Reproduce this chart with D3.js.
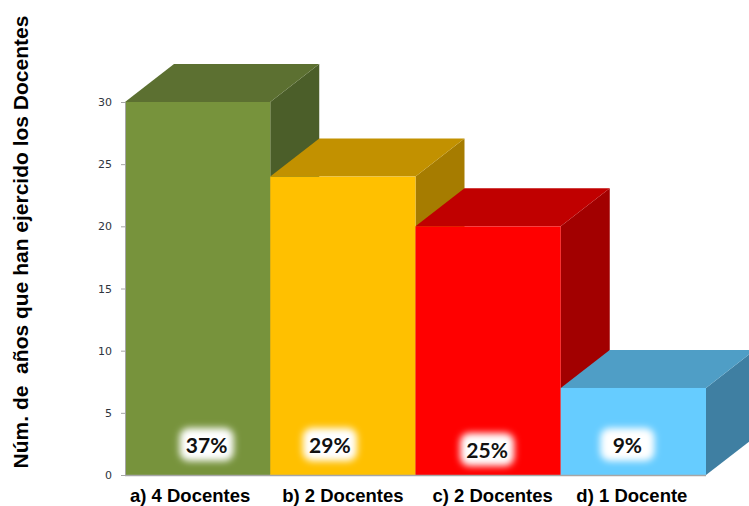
<!DOCTYPE html>
<html><head><meta charset="utf-8">
<script src="https://cdn.jsdelivr.net/npm/d3@7"></script>
<style>body{margin:0;background:#fff}svg{display:block}</style>
</head><body>
<script>
const categories = ["a) 4 Docentes", "b) 2 Docentes", "c) 2 Docentes", "d) 1 Docente"];
const values = [30, 24, 20, 7];
const percentLabels = ["37%", "29%", "25%", "9%"];
const yTicks = [0, 5, 10, 15, 20, 25, 30];
const yTitle = "Núm. de  años que han ejercido los Docentes";

const frontColors = ["#77933C", "#FFC000", "#FF0000", "#66CCFF"];
const topColors = ["#5C7031", "#C29100", "#C00000", "#4F9EC6"];
const sideColors = ["#4B5E29", "#A67C00", "#A20000", "#3F7FA2"];
const labelDx = [9, -13, -1, -6];
const labelBase = [453, 453, 458, 453];
const catDx = [-7.5, 0, 4.5, -1.5];

const W = 749, H = 506;
const svg = d3.select("body").append("svg").attr("width", W).attr("height", H);

const x = d3.scaleBand().domain(categories).range([125, 706]).padding(0);
const y = d3.scaleLinear().domain([0, 30]).range([475, 102]);
const DX = 49, DY = -38;

const defs = svg.append("defs");
const f = defs.append("filter").attr("id", "glow").attr("x", "-50%").attr("y", "-50%").attr("width", "200%").attr("height", "200%");
f.append("feGaussianBlur").attr("stdDeviation", 3.5);

// bars
const g = svg.append("g");
categories.forEach((c, i) => {
  const x0 = x(c), x1 = x0 + x.bandwidth();
  const yt = y(values[i]), yb = y(0);
  g.append("path").attr("d", `M${x1},${yt}L${x1+DX},${yt+DY}L${x1+DX},${yb+DY}L${x1},${yb}Z`).attr("fill", sideColors[i]);
  g.append("path").attr("d", `M${x0},${yt}L${x0+DX},${yt+DY}L${x1+DX},${yt+DY}L${x1},${yt}Z`).attr("fill", topColors[i]);
  g.append("rect").attr("x", x0).attr("y", yt).attr("width", x.bandwidth()).attr("height", yb - yt).attr("fill", frontColors[i]);
});

// baseline
svg.append("line").attr("x1", 125).attr("x2", 706).attr("y1", 475.5).attr("y2", 475.5).attr("stroke", "#A6A6A6").attr("stroke-width", 1.5);

// y axis
const ax = svg.append("g").attr("transform", "translate(125,0)")
  .call(d3.axisLeft(y).tickValues(yTicks).tickSize(4).tickPadding(9));
ax.select(".domain").attr("stroke", "#A6A6A6");
ax.selectAll(".tick line").attr("stroke", "#A6A6A6");
ax.selectAll(".tick text").attr("font-family", "DejaVu Sans, Verdana, sans-serif").attr("font-size", 11).attr("fill", "#2f3440");

// percent labels
categories.forEach((c, i) => {
  const cx = x(c) + x.bandwidth() / 2 + labelDx[i];
  const base = labelBase[i];
  svg.append("rect").attr("x", cx - 27).attr("y", base - 25).attr("width", 54).attr("height", 33).attr("rx", 9)
    .attr("fill", "#fff").attr("filter", "url(#glow)");
  svg.append("text").attr("x", cx).attr("y", base).attr("text-anchor", "middle")
    .attr("font-family", "Lato, Open Sans, sans-serif").attr("font-weight", "bold").attr("font-size", 21)
    .attr("fill", "#111").text(percentLabels[i]);
});

// category labels
categories.forEach((c, i) => {
  svg.append("text").attr("x", x(c) + x.bandwidth() / 2 + catDx[i]).attr("y", 501.5).attr("text-anchor", "middle")
    .attr("font-family", "Liberation Sans, Arial, sans-serif").attr("font-weight", "bold").attr("font-size", 18.5)
    .attr("fill", "#000").text(c);
});

// y title
svg.append("text").attr("transform", "translate(28,242) rotate(-90)").attr("text-anchor", "middle")
  .attr("font-family", "Liberation Sans, Arial, sans-serif").attr("font-weight", "bold").attr("font-size", 21)
  .attr("fill", "#000").style("white-space", "pre").text(yTitle);
</script>
</body></html>
